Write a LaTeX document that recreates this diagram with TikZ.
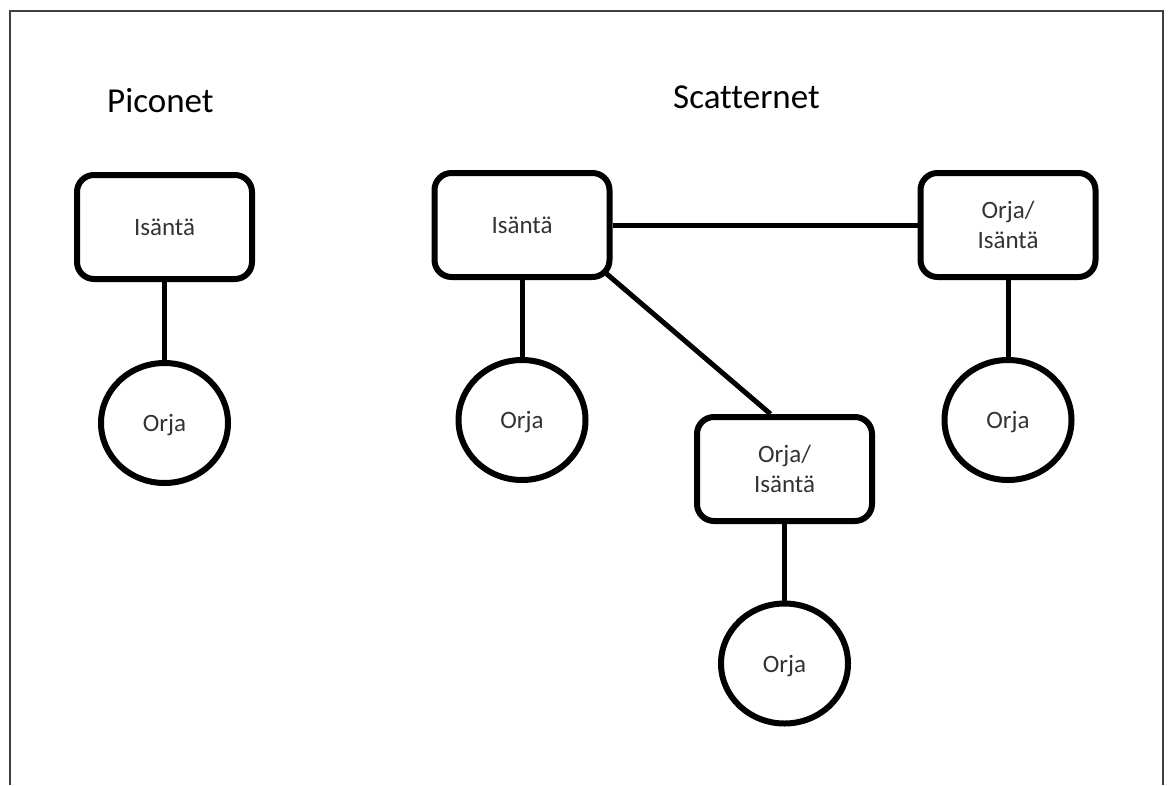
\documentclass[tikz,border=0pt]{standalone}
\usepackage{fontspec}
\setmainfont[Ligatures=NoCommon]{Carlito}
\usetikzlibrary{shapes.geometric}
\begin{document}
\begin{tikzpicture}[x=1pt,y=-1pt,
  box/.style={draw, line width=6pt, rounded corners=17pt,
    minimum width=175pt, minimum height=104pt, inner sep=0pt,
    align=center, text depth=0pt,
    font=\fontsize{25}{30}\selectfont, text=black!80},
  slave/.style={draw, ellipse, line width=6pt,
    minimum width=127pt, minimum height=120pt, inner sep=0pt,
    text depth=0pt, font=\fontsize{25}{30}\selectfont, text=black!80},
  link/.style={line width=5pt},
  heading/.style={anchor=base west, inner sep=0pt,
    font=\fontsize{35}{42}\selectfont}]
  \useasboundingbox (0,0) rectangle (1168,785);
  % page frame, open at the bottom
  \draw[line width=2pt, black!75] (10,785) -- (10,11) -- (1163,11) -- (1163,785);

  % headings
  \node[heading] (tpico) at (107,112) {Piconet};
  \node[heading] (tscat) at (673,108) {Scatternet};

  % piconet
  \node[box] (pmaster) at (164.5,227) {Isäntä};
  \node[slave] (pslave) at (164.5,423) {Orja};
  \draw[link] (pmaster.south) -- (pslave.north);

  % scatternet
  \node[box] (smaster) at (522,225) {Isäntä};
  \node[slave] (sslave) at (522,420) {Orja};
  \node[box] (rbridge) at (1008,225) {Orja/\\Isäntä};
  \node[slave] (rslave) at (1008,420) {Orja};
  \node[box] (mbridge) at (784.5,469) {Orja/\\Isäntä};
  \node[slave] (mslave) at (784.5,663.5) {Orja};

  \draw[link] (smaster.east) -- (rbridge.west);
  \draw[link] (smaster.south) -- (sslave.north);
  \draw[link] (rbridge.south) -- (rslave.north);
  \draw[link] (mbridge.south) -- (mslave.north);
  \draw[link] ([shift={(-8pt,8pt)}]smaster.south east) -- ([xshift=-14pt]mbridge.north);
\end{tikzpicture}
\end{document}
